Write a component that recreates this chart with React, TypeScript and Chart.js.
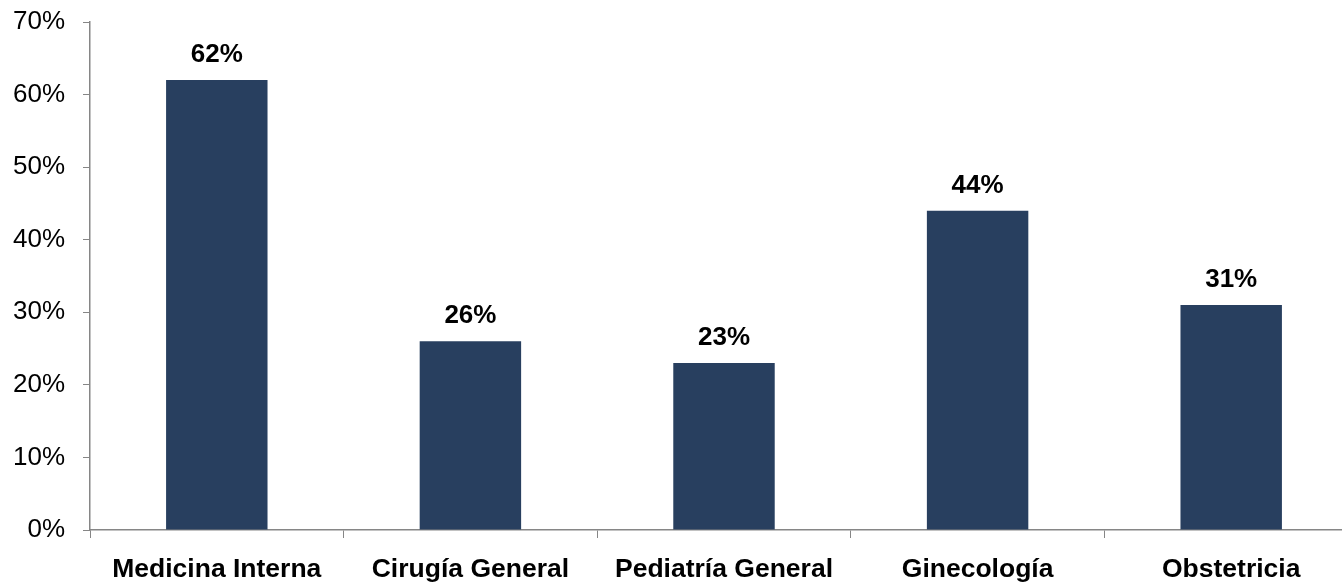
import React, { useEffect, useRef } from "react";
import { Chart, registerables } from "chart.js";

Chart.register(...registerables);

const categories = ["Medicina Interna", "Cirugía General", "Pediatría General", "Ginecología", "Obstetricia"];
const values = [62, 26, 23, 44, 31];
const yTicks = [0, 10, 20, 30, 40, 50, 60, 70];

const FONT = "'Liberation Sans', Arial, sans-serif";
const AXIS_COLOR = "#868686";
const BAR_COLOR = "#283F5F";

const dataLabels = {
  id: "dataLabels",
  afterDatasetsDraw(chart: any) {
    const ctx = chart.ctx;
    const meta = chart.getDatasetMeta(0);
    ctx.save();
    ctx.font = `bold 26px ${FONT}`;
    ctx.fillStyle = "#000";
    ctx.textAlign = "center";
    ctx.textBaseline = "alphabetic";
    meta.data.forEach((el: any, i: number) => {
      ctx.fillText(values[i] + "%", el.x, el.y - 18);
    });
    ctx.restore();
  },
};

export default function App() {
  const ref = useRef<HTMLCanvasElement>(null);
  useEffect(() => {
    const chart = new Chart(ref.current!, {
      type: "bar",
      data: {
        labels: categories,
        datasets: [
          {
            data: values,
            backgroundColor: BAR_COLOR,
            barPercentage: 0.4,
            categoryPercentage: 1,
          },
        ],
      },
      options: {
        responsive: false,
        animation: false,
        devicePixelRatio: 1,
        layout: { padding: { left: 0, right: 2, top: 22, bottom: 0 } },
        plugins: { legend: { display: false }, tooltip: { enabled: false } },
        scales: {
          x: {
            offset: true,
            grid: {
              offset: true,
              drawOnChartArea: false,
              drawTicks: true,
              tickLength: 8,
              color: AXIS_COLOR,
            },
            border: { color: AXIS_COLOR, width: 1.5 },
            ticks: {
              color: "#000",
              font: { family: FONT, size: 26.5, weight: "bold" },
              padding: 16,
              maxRotation: 0,
              autoSkip: false,
            },
            afterFit: (s: any) => {
              s.height = 55;
              s.paddingLeft = 0;
              s.paddingRight = 0;
            },
          },
          y: {
            min: 0,
            max: 70,
            afterBuildTicks: (s: any) => {
              s.ticks = yTicks.map((v) => ({ value: v }));
            },
            grid: {
              drawOnChartArea: false,
              drawTicks: true,
              tickLength: 7,
              color: AXIS_COLOR,
            },
            border: { color: AXIS_COLOR, width: 1.5 },
            ticks: {
              color: "#000",
              font: { family: FONT, size: 26 },
              padding: 18,
              callback: (v: any) => v + "%",
            },
            afterFit: (s: any) => {
              s.width = 90;
              s.paddingTop = 0;
              s.paddingBottom = 0;
            },
          },
        },
      },
      plugins: [dataLabels],
    });
    return () => chart.destroy();
  }, []);
  return (
    <div
      style={{
        position: "fixed",
        left: 0,
        top: 0,
        width: 1342,
        height: 585,
        overflow: "hidden",
        background: "#fff",
      }}
    >
      <canvas ref={ref} width={1360} height={585} style={{ display: "block" }} />
    </div>
  );
}
